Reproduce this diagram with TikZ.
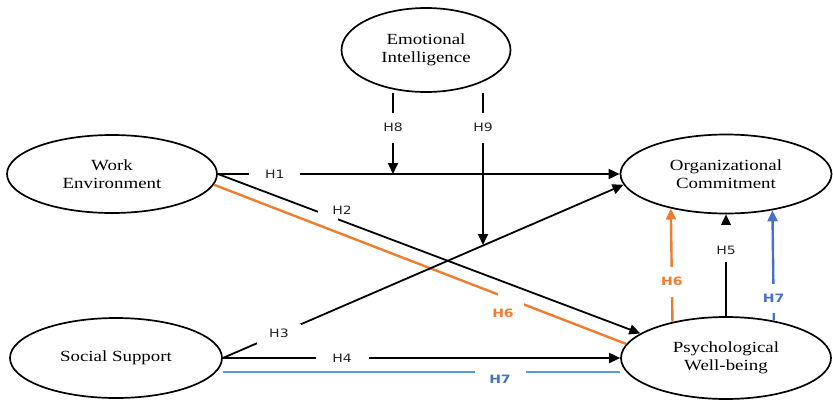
\documentclass[tikz,border=0pt]{standalone}
\usepackage{fontspec}
\usetikzlibrary{shapes.geometric,arrows.meta}
\newfontfamily\ellfont{Liberation Serif}[FakeStretch=1.22]
\newfontfamily\labfont{DejaVu Sans}[FakeStretch=1.22]
\definecolor{orng}{HTML}{ED7D31}
\definecolor{bluA}{HTML}{4472C4}
\definecolor{bluB}{HTML}{5B9BD5}
\definecolor{labgray}{HTML}{262626}
\tikzset{
  ell/.style={ellipse, draw=black, line width=1.7pt, inner sep=0pt,
    align=center, font=\ellfont\fontsize{15.5}{18}\selectfont},
  blk/.style={draw=black, line width=1.8pt},
  orl/.style={draw=orng, line width=2.4pt},
  bll/.style={draw=bluB, line width=2.4pt},
  blv/.style={draw=bluA, line width=2.4pt},
  tip/.style={-{Triangle[length=11pt,width=10pt]}},
  lab/.style={fill=white, inner sep=1pt, text=labgray,
    font=\labfont\fontsize{11.5}{13}\selectfont},
  clab/.style={inner sep=1pt, font=\labfont\bfseries\fontsize{11.5}{13}\selectfont},
  gapbox/.style={fill=white, inner sep=0pt, draw=none},
}
\begin{document}
\begin{tikzpicture}[x=1pt,y=-1pt]
\useasboundingbox (0,0) rectangle (833,402);

% ellipses
\node[ell, minimum width=169, minimum height=84] (ei) at (426,50) {Emotional\\Intelligence};
\node[ell, minimum width=210, minimum height=78] (we) at (112,174) {Work\\Environment};
\node[ell, minimum width=211, minimum height=79] (oc) at (726,174) {Organizational\\Commitment};
\node[ell, minimum width=212, minimum height=80] (ss) at (116,358) {Social Support};
\node[ell, minimum width=210, minimum height=82] (pw) at (726,358) {Psychological\\Well-being};

% moderation targets
\coordinate (m8) at (393,174);
\coordinate (m9) at (483,245);

% H1
\draw[blk, tip] (we.east) -- node[lab, pos=0.142, minimum width=51]{H1} (oc.west);
% H2
\draw[blk, tip] (we.east) -- node[gapbox, pos=0.26, minimum width=20, minimum height=12]{} (pw.164);
\node[lab, fill=none] (h2) at (342,210) {H2};
% H6 diagonal (orange)
\draw[orl] (we.-6) -- node[gapbox, pos=0.72, minimum width=26, minimum height=14]{} (pw.172);
\node[clab, text=orng] (h6a) at (503,313) {H6};
% H3
\draw[blk, tip] (ss.east) -- node[lab, pos=0.14, minimum width=44, minimum height=20]{H3} (oc.186);
% H4
\draw[blk, tip] (ss.east) -- node[lab, pos=0.30, minimum width=53]{H4} (pw.west);
% H7 horizontal (blue)
\draw[bll] ([yshift=-14pt]ss.east) -- node[gapbox, pos=0.70, minimum width=51, minimum height=6]{} ([yshift=-14pt]pw.west);
\node[clab, text=bluA] (h7a) at (500,379) {H7};

% H8, H9
\draw[blk, tip] (ei.south -| m8) -- node[lab, pos=0.43, minimum height=30]{H8} (m8);
\draw[blk, tip] (ei.south -| m9) -- node[lab, pos=0.229, minimum height=30]{H9} (m9);

% H5
\draw[blk, tip] (pw.north) -- node[gapbox, pos=0.71, minimum width=10, minimum height=37]{} (oc.south);
\node[lab, fill=none] (h5) at (726,250) {H5};
% H6 vertical (orange)
\draw[orl, -{Triangle[length=11pt,width=10pt]}] (pw.146.3) -- node[clab, fill=white, text=orng, pos=0.354, minimum height=30]{H6} (oc.212.8);
% H7 vertical (blue)
\draw[blv, -{Triangle[length=11pt,width=10pt]}] (pw.38.7) -- node[clab, fill=white, text=bluA, pos=0.20, minimum height=29]{H7} (oc.322.3);
\end{tikzpicture}
\end{document}
